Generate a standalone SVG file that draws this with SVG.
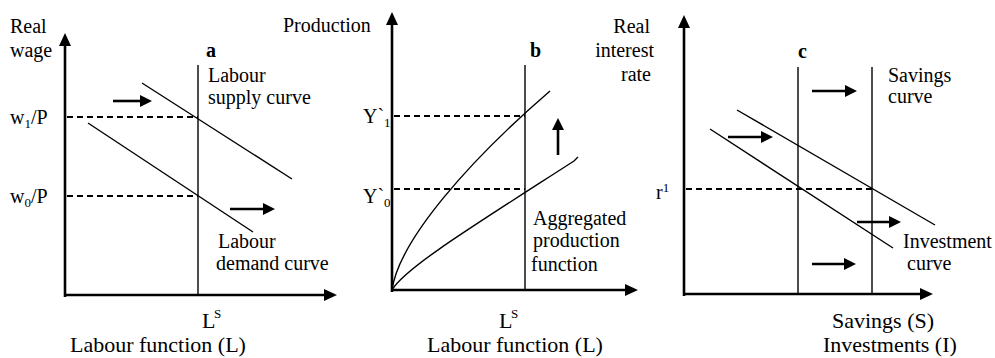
<svg xmlns="http://www.w3.org/2000/svg" width="995" height="358" viewBox="0 0 995 358" font-family="'Liberation Serif', 'Times New Roman', 'DejaVu Serif', serif">
<defs>
<marker id="axh" markerUnits="userSpaceOnUse" markerWidth="14" markerHeight="13" refX="1" refY="6" orient="auto"><path d="M0,0 L13,6 L0,12 z" fill="#000"/></marker>
<marker id="sh" markerUnits="userSpaceOnUse" markerWidth="13" markerHeight="12" refX="1" refY="6" orient="auto"><path d="M0,0 L12,6 L0,12 z" fill="#000"/></marker>
<style>
.ax{stroke:#000;stroke-width:2.6;fill:none;marker-end:url(#axh)}
.ln{stroke:#000;stroke-width:1.4;fill:none}
.ds{stroke:#000;stroke-width:1.8;stroke-dasharray:6 4;fill:none}
.sa{stroke:#000;stroke-width:2.6;fill:none;marker-end:url(#sh)}
.t{font-family:'Liberation Serif','Times New Roman','DejaVu Serif',serif;font-size:20px;fill:#000}
.big{font-size:22px}
.bold{font-weight:bold}
.sub{font-size:13px}
</style>
</defs>
<rect width="995" height="358" fill="#fff"/>

<g id="panel-a">
<g id="a-connectors">
<line class="ax" x1="65" y1="297" x2="65" y2="45"/>
<line class="ax" x1="64" y1="295" x2="325" y2="295"/>
<line class="ln" x1="198" y1="65" x2="198" y2="295"/>
<line class="ln" x1="142" y1="83" x2="292" y2="179"/>
<line class="ln" x1="88" y1="123" x2="253" y2="232"/>
<line class="ds" x1="67" y1="117" x2="198" y2="117"/>
<line class="ds" x1="67" y1="196" x2="198" y2="196"/>
<line class="sa" x1="113" y1="101" x2="141" y2="101"/>
<line class="sa" x1="230" y1="209" x2="264" y2="209"/>
</g>
<text class="t" x="10" y="33">Real</text>
<text class="t" x="10" y="57">wage</text>
<text class="t" x="10" y="124">w<tspan class="sub" dy="4">1</tspan><tspan dy="-4">/P</tspan></text>
<text class="t" x="10" y="203">w<tspan class="sub" dy="4">0</tspan><tspan dy="-4">/P</tspan></text>
<text class="t bold" x="206" y="57">a</text>
<text class="t" x="208" y="82">Labour</text>
<text class="t" x="208" y="104">supply curve</text>
<text class="t" x="218" y="248">Labour</text>
<text class="t" x="216" y="270">demand curve</text>
<text class="t big" x="202" y="328">L</text>
<text class="t sub" x="214" y="318">S</text>
<text class="t big" x="70" y="352">Labour function (L)</text>
</g>

<g id="panel-b">
<g id="b-connectors">
<line class="ax" x1="392" y1="292" x2="392" y2="24"/>
<line class="ax" x1="391" y1="290" x2="626" y2="290"/>
<line class="ln" x1="525" y1="65" x2="525" y2="290"/>
<line class="ds" x1="394" y1="116" x2="525" y2="116"/>
<line class="ds" x1="394" y1="189" x2="525" y2="189"/>
<path class="ln" d="M392,290 C399,240 470,160 550,91"/>
<path class="ln" d="M392,290 C405,268 470,228 574,161 Q577,158 578,157"/>
<line class="sa" x1="558" y1="155" x2="558" y2="129"/>
</g>
<text class="t" x="283" y="32">Production</text>
<text class="t" x="363" y="123">Y`<tspan class="sub" dy="4">1</tspan></text>
<text class="t" x="363" y="203">Y`<tspan class="sub" dy="4">0</tspan></text>
<text class="t bold" x="530" y="57">b</text>
<text class="t" x="533" y="225">Aggregated</text>
<text class="t" x="533" y="247">production</text>
<text class="t" x="531" y="271">function</text>
<text class="t big" x="499" y="328">L</text>
<text class="t sub" x="511" y="318">S</text>
<text class="t big" x="427" y="352">Labour function (L)</text>
</g>

<g id="panel-c">
<g id="c-connectors">
<line class="ax" x1="684" y1="296" x2="684" y2="27"/>
<line class="ax" x1="683" y1="294" x2="921" y2="294"/>
<line class="ln" x1="798" y1="67" x2="798" y2="294"/>
<line class="ln" x1="872" y1="67" x2="872" y2="294"/>
<line class="ln" x1="737" y1="110" x2="935" y2="225"/>
<line class="ln" x1="710" y1="129" x2="893" y2="248"/>
<line class="ds" x1="686" y1="189" x2="872" y2="189"/>
<line class="sa" x1="812" y1="91" x2="846" y2="91"/>
<line class="sa" x1="728" y1="137" x2="762" y2="137"/>
<line class="sa" x1="857" y1="222" x2="890" y2="222"/>
<line class="sa" x1="812" y1="264" x2="845" y2="264"/>
</g>
<text class="t" x="650" y="33" text-anchor="end">Real</text>
<text class="t" x="654" y="57" text-anchor="end">interest</text>
<text class="t" x="651" y="81" text-anchor="end">rate</text>
<text class="t" x="656" y="199">r<tspan class="sub" font-size="12" dy="-7">1</tspan></text>
<text class="t bold" x="798" y="58">c</text>
<text class="t" x="888" y="82">Savings</text>
<text class="t" x="888" y="103">curve</text>
<text class="t" x="903" y="248">Investment</text>
<text class="t" x="907" y="270">curve</text>
<text class="t big" x="832" y="328">Savings (S)</text>
<text class="t big" x="823" y="352">Investments (I)</text>
</g>
</svg>
